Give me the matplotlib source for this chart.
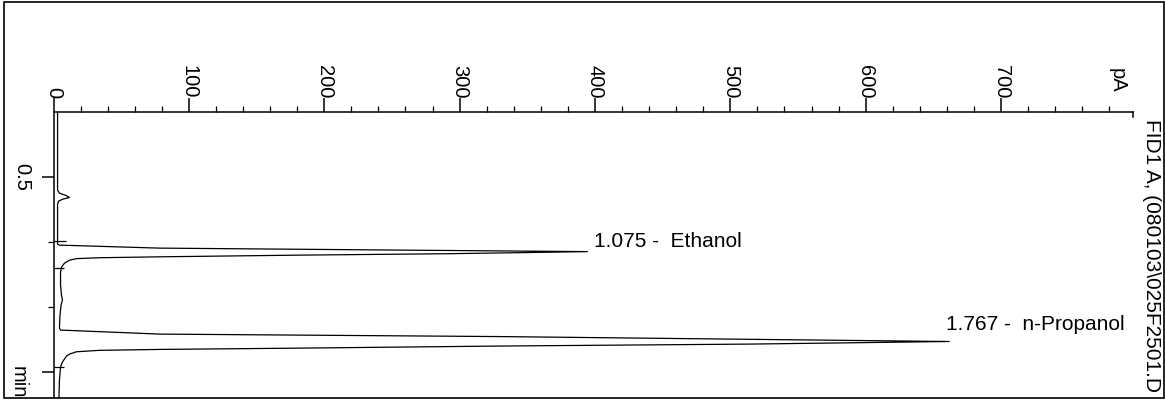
# FID chromatogram, rotated layout (signal across, time down)

import matplotlib
matplotlib.use("Agg")
import matplotlib.pyplot as plt
from matplotlib.patches import Rectangle
from matplotlib.ticker import FixedLocator, MultipleLocator

plt.rcParams['font.family'] = ['Liberation Sans', 'DejaVu Sans']

# trace: retention time (min) and detector signal (pA)
time_min = [0.000, 0.602, 0.625, 0.642, 0.658, 0.672, 0.687, 0.710,
            0.987, 1.018, 1.025, 1.048, 1.075, 1.091, 1.102, 1.115,
            1.122, 1.129, 1.141, 1.164, 1.195, 1.233, 1.333, 1.410,
            1.448, 1.487, 1.564, 1.664, 1.679, 1.710, 1.729, 1.767,
            1.787, 1.802, 1.818, 1.828, 1.835, 1.846, 1.864, 1.879,
            1.925, 1.964, 2.064, 2.202]
signal_pA = [3.0, 3.0, 4.4, 9.0, 11.8, 6.6, 3.7, 3.0,
             3.0, 3.0, 4.4, 78.3, 394.4, 292.5, 181.7, 78.3,
             34.0, 17.0, 11.8, 8.1, 5.9, 5.2, 5.2, 5.9,
             6.6, 5.6, 4.8, 4.4, 5.2, 78.3, 329.4, 661.7,
             514.0, 329.4, 181.7, 78.3, 34.0, 17.0, 11.8, 9.6,
             6.6, 5.2, 4.4, 4.0]

# integrated peaks
peak_rt = [1.075, 1.767]
peak_height = [394.4, 661.7]
peak_names = ["Ethanol", "n-Propanol"]

# baseline markers (start / end of integration)
marker_t = [0.995, 1.203, 1.964]
marker_pA = [4.5, 3.5, 3.5]

signal_ticks = [0, 100, 200, 300, 400, 500, 600, 700]
time_major = [0.5, 2.0]
time_minor = [1.0, 1.5]
time_labels = ["0.5", ""]

signal_range = (0, 797.5)
time_range = (2.202, 0)

fig = plt.figure(figsize=(11.65, 4.0), dpi=100)
W, H = 1165, 400

# page frame
fig.patches.append(Rectangle((4 / W, 2 / H), 1160 / W, 396 / H, transform=fig.transFigure,
                             fill=False, lw=1.2, ec='black'))

ax = fig.add_axes([53.5 / W, 2 / H, (1133 - 53.5) / W, (398 - 112) / H])
ax.set_facecolor('none')

ax.plot(signal_pA, time_min, color='black', lw=0.9)
ax.plot(marker_pA, marker_t, ls='none', marker='_', ms=9, mew=0.9, color='black')

ax.set_xlim(*signal_range)
ax.set_ylim(*time_range)

ax.spines['bottom'].set_visible(False)
ax.spines['right'].set_bounds(0, 0.035)
for side in ['top', 'left', 'right']:
    ax.spines[side].set_linewidth(1.1)

ax.xaxis.tick_top()
ax.xaxis.set_major_locator(FixedLocator(signal_ticks))
ax.xaxis.set_minor_locator(MultipleLocator(20))
ax.set_xticklabels([str(v) for v in signal_ticks], rotation=-90, fontsize=14.5)
ax.tick_params(axis='x', which='major', direction='out', length=10, width=1.1, pad=0)
ax.tick_params(axis='x', which='minor', direction='out', length=4, width=0.9)

ax.yaxis.set_major_locator(FixedLocator(time_major))
ax.yaxis.set_minor_locator(FixedLocator(time_minor))
ax.set_yticklabels(time_labels, rotation=-90, fontsize=14.5, va='center')
ax.tick_params(axis='y', which='major', direction='out', length=9, width=1.1, pad=7)
ax.tick_params(axis='y', which='minor', direction='out', length=4.5, width=0.9)

# axis unit labels
fig.text(1117 / W, 1 - 93 / H, "pA", rotation=-90, fontsize=14.5, ha='center', va='bottom')
fig.text(18 / W, 1 - 366 / H, "min", rotation=-90, fontsize=14.5, ha='center', va='top')
fig.text(1151 / W, 1 - 119 / H, "FID1 A, (080103\\025F2501.D", rotation=-90, fontsize=15,
         ha='center', va='top')

# peak labels
offsets = [(7, 5), (-3, 12)]
for rt, h, name, off in zip(peak_rt, peak_height, peak_names, offsets):
    ax.annotate(f"{rt:.3f} -  {name}", xy=(h, rt), xytext=off, textcoords='offset pixels',
                fontsize=15, ha='left', va='baseline', annotation_clip=False)

fig.savefig("out.png", dpi=100)
